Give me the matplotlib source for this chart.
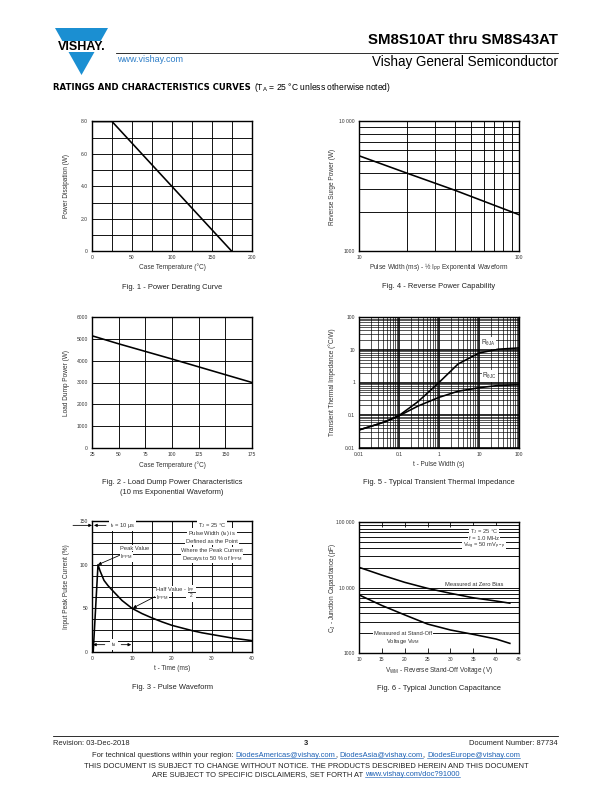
import matplotlib
matplotlib.use("Agg")
import matplotlib.pyplot as plt
from matplotlib.patches import Polygon, Rectangle
from matplotlib.ticker import NullFormatter

plt.rcParams["font.family"] = ["Liberation Sans", "DejaVu Sans"]
plt.rcParams["mathtext.fontset"] = "custom"
plt.rcParams["mathtext.rm"] = "Liberation Sans"
plt.rcParams["mathtext.it"] = "Liberation Sans:italic"
plt.rcParams["mathtext.bf"] = "Liberation Sans:bold"

# ---- data ----
# Fig. 1 - power derating
fig1_temp = [0, 25, 175]
fig1_power = [8.0, 8.0, 0.0]

# Fig. 2 - load dump power
fig2_temp = [25, 50, 75, 100, 125, 150, 175]
fig2_power = [5150, 4780, 4430, 4080, 3720, 3360, 3000]

# Fig. 3 - pulse waveform
fig3_time = [0.3, 1.5, 2.0, 3.0, 4.0, 5.0, 7.5, 10, 12.5, 15, 17.5, 20, 22.5, 25, 27.5, 30, 35, 40]
fig3_current = [0, 100, 93, 82, 76, 71, 59, 50, 44, 39, 34.5, 30.5, 27.5, 24.5, 22, 20, 16, 13]

# Fig. 4 - reverse power capability
fig4_width = [10, 20, 40, 100]
fig4_power = [5450, 4000, 2950, 1920]

# Fig. 5 - transient thermal impedance
fig5_time = [0.01, 0.03, 0.05, 0.1, 0.3, 1, 3, 10, 30, 100]
fig5_zja = [0.035, 0.053, 0.066, 0.097, 0.26, 1.0, 3.7, 8.0, 10.5, 11.5]
fig5_zjc = [0.035, 0.053, 0.066, 0.095, 0.19, 0.35, 0.54, 0.69, 0.81, 0.85]

# Fig. 6 - junction capacitance
fig6_volt = [10, 15, 20, 25, 30, 35, 40, 43]
fig6_zero_bias = [20400, 15500, 12000, 9700, 8150, 6950, 6200, 5750]
fig6_standoff = [7700, 5300, 3800, 2750, 2230, 1910, 1620, 1390]

W, H = 612, 792
GREY = "#333333"
BLUE = "#1b8fd2"
LINK = "#1a5fb4"
WHITE_BOX = dict(facecolor="white", edgecolor="none", pad=0.8)

fig = plt.figure(figsize=(W / 72, H / 72), dpi=72)
page = fig.add_axes([0, 0, 1, 1])
page.set_xlim(0, W)
page.set_ylim(H, 0)
page.axis("off")
renderer = fig.canvas.get_renderer()


def text_width(s, **kw):
    t = page.text(0, 0, "|" + s + "|", **kw)
    w = t.get_window_extent(renderer).width
    t.remove()
    t = page.text(0, 0, "||", **kw)
    w -= t.get_window_extent(renderer).width
    t.remove()
    return w


def inline_text(pieces, x, y, ha="left"):
    """pieces: (text, kwargs, underline) drawn one after another on a baseline"""
    widths = [text_width(s, **kw) for s, kw, _ in pieces]
    if ha == "center":
        x -= sum(widths) / 2
    for (s, kw, ul), w in zip(pieces, widths):
        page.text(x, y, s, ha="left", va="baseline", **kw)
        if ul:
            page.plot([x, x + w], [y + 1.3, y + 1.3], color=kw.get("color", "k"), lw=0.6)
        x += w


def chart_axes(left, top, right, bottom):
    ax = fig.add_axes([left / W, 1 - bottom / H, (right - left) / W, (bottom - top) / H])
    for s in ax.spines.values():
        s.set_linewidth(1.4)
    ax.tick_params(which="both", length=0, labelsize=5, colors=GREY, pad=4)
    ax.set_axisbelow(True)
    return ax


def page_labels(ax_box, xlabel, xlabel_y, ylabel, ylabel_x, captions):
    left, top, right, bottom = ax_box
    page.text((left + right) / 2, xlabel_y, xlabel, ha="center", va="center", fontsize=6.5, color=GREY)
    page.text(ylabel_x, (top + bottom) / 2, ylabel, ha="center", va="center", rotation=90,
              fontsize=6.5, color=GREY)
    for cy, cap in captions:
        page.text((left + right) / 2, cy, cap, ha="center", va="center", fontsize=7.5, color="#222222")


# ---- header ----
page.add_patch(Polygon([(55, 28), (108, 28), (81.5, 75)], closed=True, color=BLUE, lw=0))
page.add_patch(Rectangle((45, 40.5), 70, 11.5, color="white", lw=0))
page.text(81.5, 46.5, "VISHAY.", ha="center", va="center", fontsize=12.5, fontweight="bold", color="k")
page.text(558, 40, "SM8S10AT thru SM8S43AT", ha="right", va="center", fontsize=15, fontweight="bold")
page.plot([116, 558], [52.5, 52.5], color="k", lw=0.8)
page.text(117, 59, "www.vishay.com", ha="left", va="center", fontsize=9, color="#2f7fc8")
page.text(558, 62, "Vishay General Semiconductor", ha="right", va="center", fontsize=13.5)
inline_text([("RATINGS AND CHARACTERISTICS CURVES ", dict(fontsize=8.5, fontweight="bold",
                                                         family="DejaVu Sans"), False),
             (r"($\mathregular{T_A}$ = 25 °C unless otherwise noted)", dict(fontsize=8.5), False)],
            53, 90.5)

# ---- Fig. 1 ----
box1 = (92, 121.5, 252, 251.5)
ax1 = chart_axes(*box1)
ax1.plot(fig1_temp, fig1_power, color="k", lw=1.6)
ax1.set_xlim(0, 200)
ax1.set_ylim(0, 8)
ax1.set_xticks([0, 50, 100, 150, 200])
ax1.set_xticks([25, 75, 125, 175], minor=True)
ax1.set_yticks([0, 2, 4, 6, 8])
ax1.set_yticklabels(["0", "2.0", "4.0", "6.0", "8.0"])
ax1.set_yticks([1, 3, 5, 7], minor=True)
ax1.grid(which="both", color="k", lw=0.9)
page_labels(box1, "Case Temperature (°C)", 267, "Power Dissipation (W)", 66,
            [(287.3, "Fig. 1 - Power Derating Curve")])

# ---- Fig. 4 ----
box4 = (359, 121.5, 519, 251.5)
ax4 = chart_axes(*box4)
ax4.plot(fig4_width, fig4_power, color="k", lw=1.6)
ax4.set_xscale("log")
ax4.set_yscale("log")
ax4.set_xlim(10, 100)
ax4.set_ylim(1000, 10000)
ax4.set_xticks([10, 100])
ax4.set_xticklabels(["10", "100"])
ax4.set_xticks([20, 30, 40, 50, 60, 70, 80, 90], minor=True)
ax4.set_yticks([1000, 10000])
ax4.set_yticklabels(["1000", "10 000"])
ax4.set_yticks([2000, 3000, 4000, 5000, 6000, 7000, 8000, 9000], minor=True)
ax4.xaxis.set_minor_formatter(NullFormatter())
ax4.yaxis.set_minor_formatter(NullFormatter())
ax4.grid(which="both", color="k", lw=0.9)
page_labels(box4, r"Pulse Width (ms) - ½ $\mathregular{I_{PP}}$ Exponential Waveform", 267,
            "Reverse Surge Power (W)", 333, [(287, "Fig. 4 - Reverse Power Capability")])

# ---- Fig. 2 ----
box2 = (92, 317.3, 252, 447.7)
ax2 = chart_axes(*box2)
ax2.plot(fig2_temp, fig2_power, color="k", lw=1.6)
ax2.set_xlim(25, 175)
ax2.set_ylim(0, 6000)
ax2.set_xticks([25, 50, 75, 100, 125, 150, 175])
ax2.set_yticks([0, 1000, 2000, 3000, 4000, 5000, 6000])
ax2.grid(which="both", color="k", lw=0.9)
page_labels(box2, "Case Temperature (°C)", 465.3, "Load Dump Power (W)", 66.7,
            [(482.7, "Fig. 2 - Load Dump Power Characteristics"),
             (492, "(10 ms Exponential Waveform)")])

# ---- Fig. 5 ----
box5 = (359, 317.3, 519, 447.7)
ax5 = chart_axes(*box5)
ax5.plot(fig5_time, fig5_zja, color="k", lw=1.6)
ax5.plot(fig5_time, fig5_zjc, color="k", lw=1.6)
ax5.set_xscale("log")
ax5.set_yscale("log")
ax5.set_xlim(0.01, 100)
ax5.set_ylim(0.01, 100)
decades = [0.01, 0.1, 1, 10, 100]
decade_labels = ["0.01", "0.1", "1", "10", "100"]
minors = [m * d for d in decades[:-1] for m in range(2, 10)]
ax5.set_xticks(decades)
ax5.set_xticklabels(decade_labels)
ax5.set_yticks(decades)
ax5.set_yticklabels(decade_labels)
ax5.set_xticks(minors, minor=True)
ax5.set_yticks(minors, minor=True)
ax5.xaxis.set_minor_formatter(NullFormatter())
ax5.yaxis.set_minor_formatter(NullFormatter())
ax5.grid(which="major", color="k", lw=1.6)
ax5.grid(which="minor", color="k", lw=0.65)
ax5.text(17, 16.3, r"$\mathregular{R_{θJA}}$", ha="center", va="center", fontsize=6.5, color=GREY,
         bbox=WHITE_BOX)
ax5.text(18.6, 1.62, r"$\mathregular{R_{θJC}}$", ha="center", va="center", fontsize=6.5, color=GREY,
         bbox=WHITE_BOX)
page_labels(box5, "t - Pulse Width (s)", 465, "Transient Thermal Impedance (°C/W)", 332,
            [(482.7, "Fig. 5 - Typical Transient Thermal Impedance")])

# ---- Fig. 3 ----
box3 = (92, 521, 252, 652)
ax3 = chart_axes(*box3)
ax3.plot(fig3_time, fig3_current, color="k", lw=1.6)
ax3.set_xlim(0, 40)
ax3.set_ylim(0, 150)
ax3.set_xticks([0, 10, 20, 30, 40])
ax3.set_xticks([5, 15, 25, 35], minor=True)
ax3.set_yticks([0, 50, 100, 150])
ax3.set_yticks([12.5, 25, 37.5, 62.5, 75, 87.5, 112.5, 125, 137.5], minor=True)
ax3.grid(which="both", color="k", lw=0.9)
arrow = dict(arrowstyle="-|>", color="k", lw=0.8, mutation_scale=6, shrinkA=0, shrinkB=0)
note = dict(fontsize=5.8, color=GREY, bbox=WHITE_BOX)
ax3.annotate("", xy=(0, 145), xytext=(-4.75, 145), arrowprops=arrow, annotation_clip=False)
ax3.annotate("", xy=(0.5, 145), xytext=(3.5, 145), arrowprops=arrow)
ax3.text(4.4, 145, r"$\mathregular{t_r}$ = 10 μs", ha="left", va="center", **note)
ax3.text(7.1, 119, "Peak Value", ha="left", va="center", **note)
ax3.text(7.1, 109, r"$\mathregular{I_{PPM}}$", ha="left", va="center", **note)
ax3.annotate("", xy=(1.5, 100), xytext=(6.9, 110.7), arrowprops=arrow)
ax3.text(16.1, 72, "Half Value -", ha="left", va="center", **note)
ax3.text(16.1, 62, r"$\mathregular{I_{PPM}}$", ha="left", va="center", **note)
ax3.text(24.8, 67, r"$\frac{\mathregular{I_{PP}}}{\mathregular{2}}$", ha="center", va="center",
         fontsize=7, color=GREY, bbox=WHITE_BOX)
ax3.annotate("", xy=(10.25, 50.4), xytext=(15.7, 63.3), arrowprops=arrow)
for ty, line in [(145, r"$\mathregular{T_J}$ = 25 °C"),
                 (136, r"Pulse Width ($\mathregular{t_d}$) is"),
                 (126.8, "Defined as the Point"),
                 (116.5, "Where the Peak Current"),
                 (107.6, r"Decays to 50 % of $\mathregular{I_{PPM}}$")]:
    ax3.text(30, ty, line, ha="center", va="center", **note)
ax3.annotate("", xy=(0.25, 8.4), xytext=(3.2, 8.4), arrowprops=arrow)
ax3.text(4.8, 8.4, r"$\mathregular{t_d}$", ha="left", va="center", **note)
ax3.annotate("", xy=(9.8, 8.4), xytext=(7.3, 8.4), arrowprops=arrow)
page_labels(box3, "t - Time (ms)", 669, "Input Peak Pulse Current (%)", 66.7,
            [(687.7, "Fig. 3 - Pulse Waveform")])

# ---- Fig. 6 ----
box6 = (359, 522.3, 519, 652.7)
ax6 = chart_axes(*box6)
ax6.plot(fig6_volt, fig6_zero_bias, color="k", lw=1.6)
ax6.plot(fig6_volt, fig6_standoff, color="k", lw=1.6)
ax6.set_yscale("log")
ax6.set_xlim(10, 45)
ax6.set_ylim(1000, 100000)
ax6.set_xticks([10, 15, 20, 25, 30, 35, 40, 45])
ax6.set_yticks([1000, 10000, 100000])
ax6.set_yticklabels(["1000", "10 000", "100 000"])
ax6.set_yticks([m * d for d in (1000, 10000) for m in range(2, 10)], minor=True)
ax6.yaxis.set_minor_formatter(NullFormatter())
ax6.tick_params(axis="x", which="major", direction="in", length=5, width=1, top=True, bottom=True)
ax6.grid(axis="y", which="both", color="k", lw=0.9)
for ty, line in [(72600, r"$\mathregular{T_J}$ = 25 °C"),
                 (55500, "f = 1.0 MHz"),
                 (42700, r"$\mathregular{V_{sig}}$ = 50 m$\mathregular{V_{p-p}}$")]:
    ax6.text(37.4, ty, line, ha="center", va="center", **note)
ax6.text(35.1, 11300, "Measured at Zero Bias", ha="center", va="center", **note)
ax6.text(19.6, 2000, "Measured at Stand-Off", ha="center", va="center", **note)
ax6.text(19.6, 1510, r"Voltage $\mathregular{V_{WM}}$", ha="center", va="center", **note)
page_labels(box6, r"$\mathregular{V_{WM}}$ - Reverse Stand-Off Voltage (V)", 671,
            r"$\mathregular{C_J}$ - Junction Capacitance (pF)", 332,
            [(688.3, "Fig. 6 - Typical Junction Capacitance")])

# ---- footer ----
foot = dict(fontsize=7.5, color="#222222")
link = dict(fontsize=7.5, color=LINK)
page.plot([53, 558], [736, 736], color="k", lw=0.8)
page.text(53, 744.7, "Revision: 03-Dec-2018", ha="left", va="baseline", **foot)
page.text(306, 744.7, "3", ha="center", va="baseline", fontweight="bold", **foot)
page.text(558, 744.7, "Document Number: 87734", ha="right", va="baseline", **foot)
inline_text([("For technical questions within your region: ", foot, False),
             ("DiodesAmericas@vishay.com", link, True),
             (", ", foot, False),
             ("DiodesAsia@vishay.com", link, True),
             (", ", foot, False),
             ("DiodesEurope@vishay.com", link, True)],
            306, 756.7, ha="center")
page.text(306, 767.5, "THIS DOCUMENT IS SUBJECT TO CHANGE WITHOUT NOTICE. THE PRODUCTS DESCRIBED "
          "HEREIN AND THIS DOCUMENT", ha="center", va="baseline", **foot)
inline_text([("ARE SUBJECT TO SPECIFIC DISCLAIMERS, SET FORTH AT ", foot, False),
             ("www.vishay.com/doc?91000", link, True)],
            306, 775.7, ha="center")

fig.savefig("out.png", dpi=72)
